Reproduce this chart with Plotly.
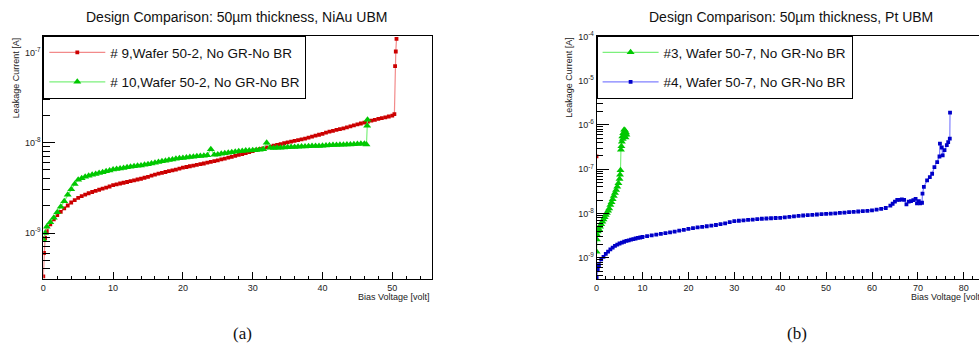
import math
import plotly.graph_objects as go

# ---------------- data (currents in nA, voltages in V) ----------------
# Panel (a): NiAu UBM
a9_volt = [0, 0.1, 0.25, 0.5, 1, 1.5, 2, 2.5, 3, 3.5, 4, 4.5, 5, 5.5, 6, 6.5, 7, 7.5, 8, 8.5,
           9, 9.5, 10, 10.5, 11, 11.5, 12, 12.5, 13, 13.5, 14, 14.5, 15, 15.5, 16, 16.5, 17, 17.5,
           18, 18.5, 19, 19.5, 20, 20.5, 21, 21.5, 22, 22.5, 23, 23.5, 24, 24.5, 25, 25.5, 26, 26.5,
           27, 27.5, 28, 28.5, 29, 29.5, 30, 30.5, 31, 31.5, 32, 32.5, 33, 33.5, 34, 34.5, 35, 35.5,
           36, 36.5, 37, 37.5, 38, 38.5, 39, 39.5, 40, 40.5, 41, 41.5, 42, 42.5, 43, 43.5, 44, 44.5,
           45, 45.5, 46, 46.5, 47, 47.5, 48, 48.5, 49, 49.5, 50, 50.3, 50.4, 50.5, 50.6]
a9_current_nA = [0.33, 0.6, 0.88, 1.05, 1.25, 1.42, 1.58, 1.72, 1.88, 2.02, 2.18, 2.32, 2.45, 2.56, 2.66, 2.76, 2.85, 2.94, 3.02, 3.10,
                 3.18, 3.28, 3.40, 3.47, 3.54, 3.61, 3.68, 3.76, 3.84, 3.92, 4.00, 4.10, 4.20, 4.33, 4.45, 4.55, 4.65, 4.75,
                 4.85, 4.95, 5.05, 5.18, 5.30, 5.40, 5.50, 5.60, 5.70, 5.80, 5.90, 6.02, 6.15, 6.27, 6.40, 6.55, 6.70, 6.85,
                 7.00, 7.18, 7.35, 7.52, 7.70, 7.90, 8.10, 8.30, 8.50, 8.70, 8.90, 9.10, 9.30, 9.50, 9.70, 9.90, 10.1, 10.3,
                 10.5, 10.7, 10.9, 11.15, 11.4, 11.7, 12.0, 12.3, 12.6, 12.95, 13.3, 13.6, 13.9, 14.2, 14.5, 14.85, 15.2, 15.6,
                 16.0, 16.4, 16.8, 17.2, 17.6, 18.0, 18.4, 18.8, 19.2, 19.6, 20.0, 20.8, 71, 103, 142]

a10_volt = [0, 0.25, 0.5, 1, 1.5, 2, 2.5, 3, 3.5, 4, 4.5, 5, 5.5, 6, 6.5, 7, 7.5, 8, 8.5, 9, 9.5,
            10, 10.5, 11, 11.5, 12, 12.5, 13, 13.5, 14, 14.5, 15, 15.5, 16, 16.5, 17, 17.5, 18, 18.5,
            19, 19.5, 20, 20.5, 21, 21.5, 22, 22.5, 23, 23.5, 24, 24.5, 25, 25.5, 26, 26.5, 27, 27.5,
            28, 28.5, 29, 29.5, 30, 30.5, 31, 31.5, 32, 32.5, 33, 33.5, 34, 34.5, 35, 35.5, 36, 36.5,
            37, 37.5, 38, 38.5, 39, 39.5, 40, 40.5, 41, 41.5, 42, 42.5, 43, 43.5, 44, 44.5, 45, 45.5,
            46, 46.3, 46.4, 46.45]
a10_current_nA = [0.84, 1.0, 1.17, 1.32, 1.48, 1.70, 1.95, 2.25, 2.65, 3.05, 3.5, 3.9, 4.05, 4.2, 4.32, 4.42, 4.52, 4.62, 4.72, 4.85, 4.95,
                  5.05, 5.12, 5.18, 5.25, 5.35, 5.42, 5.5, 5.56, 5.62, 5.7, 5.8, 5.9, 6.0, 6.15, 6.25, 6.35, 6.45, 6.55,
                  6.65, 6.75, 6.8, 6.88, 6.95, 7.0, 7.08, 7.15, 7.2, 7.3, 8.5, 7.4, 7.45, 7.55, 7.65, 7.75, 7.85, 7.95,
                  8.05, 8.12, 8.2, 8.25, 8.3, 8.35, 8.4, 8.5, 10.0, 8.8, 8.75, 8.8, 8.85, 8.9, 8.95, 9.0, 9.0, 9.05,
                  9.1, 9.1, 9.15, 9.2, 9.2, 9.25, 9.3, 9.35, 9.4, 9.45, 9.45, 9.5, 9.55, 9.6, 9.6, 9.65, 9.7, 9.75,
                  9.8, 9.6, 15.5, 18.0]

# Panel (b): Pt UBM
b3_volt = [0, 0.05, 0.1, 0.25, 0.5, 0.75, 1.0, 1.25, 1.5, 1.75, 2.0, 2.25, 2.5, 2.75, 3.0, 3.25, 3.5, 3.75,
           4.0, 4.25, 4.5, 4.75, 5.0, 5.1, 5.2, 5.3, 5.4, 5.5, 5.6, 5.7, 5.8, 5.9, 6.0, 6.1, 6.2, 6.3, 6.4, 6.5]
b3_current_nA = [1.37, 2.6, 3.3, 3.9, 4.4, 5.0, 5.7, 6.5, 7.3, 8.2, 9.2, 10.3, 11.5, 13, 15.5, 18, 21, 25,
                 29, 34, 40, 48, 60, 75, 95, 275, 330, 420, 550, 480, 650, 560, 780, 600, 750, 520, 680, 600]

b4_volt = [0, 0.25, 0.5, 1, 1.5, 2, 2.5, 3, 3.5, 4, 4.5, 5, 5.5, 6, 6.5, 7, 7.5, 8, 8.5, 9, 9.5, 10,
           11, 12, 13, 14, 15, 16, 17, 18, 19, 20, 21, 22, 23, 24, 25, 26, 27, 28, 29, 30, 31, 32, 33,
           34, 35, 36, 37, 38, 39, 40, 41, 42, 43, 44, 45, 46, 47, 48, 49, 50, 51, 52, 53, 54, 55, 56,
           57, 58, 59, 60, 61, 62, 63, 64, 64.5, 65, 65.5, 66, 66.5, 67, 67.5, 68, 68.5, 69, 69.5, 69.8,
           70.2, 70.5, 70.9, 71.0, 71.3, 72.0, 72.6, 73.1, 73.6, 74.2, 74.7, 74.8, 75.2, 75.4, 75.8, 76.3,
           76.6, 76.95, 77.0]
b4_current_nA = [0.35, 0.55, 0.68, 0.92, 1.05, 1.22, 1.38, 1.55, 1.7, 1.85, 1.97, 2.1, 2.2, 2.3, 2.4, 2.48, 2.56, 2.64, 2.72, 2.8, 2.87, 2.94,
                 3.08, 3.2, 3.34, 3.47, 3.6, 3.75, 3.9, 4.08, 4.28, 4.5, 4.68, 4.85, 5.0, 5.15, 5.3, 5.5, 5.75, 6.0, 6.35, 6.7, 6.85, 7.0, 7.15,
                 7.3, 7.45, 7.6, 7.7, 7.8, 7.9, 8.0, 8.2, 8.4, 8.6, 8.8, 9.0, 9.2, 9.35, 9.5, 9.65, 9.8, 9.95, 10.1, 10.3, 10.5, 10.7, 10.9,
                 11.1, 11.3, 11.5, 11.7, 12.2, 12.7, 13.3, 15.0, 16.6, 18.5, 20.4, 20.4, 20.8, 20.4, 16.0, 18.5, 19.0, 20.0, 21.5, 17.0,
                 19.0, 17.0, 17.5, 28, 40, 56, 66, 79, 112, 145, 194, 380, 310, 205, 270, 350,
                 410, 490, 1900]

# stray point at 0 V in panel (b)
b_stray_volt = [0]
b_stray_current_nA = [195]

legend_a = ["# 9,Wafer 50-2, No GR-No BR", "# 10,Wafer 50-2, No GR-No BR"]
legend_b = ["#3, Wafer 50-7, No GR-No BR", "#4, Wafer 50-7, No GR-No BR"]
titles = ["Design Comparison: 50\u00b5m thickness, NiAu UBM", "Design Comparison: 50\u00b5m thickness, Pt UBM"]
y_ticks_a = [1e-9, 1e-8, 1e-7]
y_ticks_b = [1e-9, 1e-8, 1e-7, 1e-6, 1e-5, 1e-4]

NA = 1e-9
W, H = 979, 351


def to_amp(vals):
    return [v * NA for v in vals]


def sup(v):
    return "10<sup>%d</sup>" % round(math.log10(v))


RED_L, RED_M = "#f28a8a", "#cc0000"
GRN_L, GRN_M = "#7cf07c", "#00c800"
BLU_L, BLU_M = "#8080ff", "#0000c8"

fig = go.Figure()
fig.add_trace(go.Scatter(x=a9_volt, y=to_amp(a9_current_nA), mode="lines+markers", name=legend_a[0],
                         line=dict(color=RED_L, width=1.2), marker=dict(color=RED_M, size=3.8, symbol="square"),
                         xaxis="x", yaxis="y", legend="legend", legendgroup="a9"))
fig.add_trace(go.Scatter(x=a10_volt, y=to_amp(a10_current_nA), mode="lines+markers", name=legend_a[1],
                         line=dict(color=GRN_L, width=1.2), marker=dict(color=GRN_M, size=7, symbol="triangle-up"),
                         xaxis="x", yaxis="y", legend="legend", legendgroup="a10"))
fig.add_trace(go.Scatter(x=b3_volt, y=to_amp(b3_current_nA), mode="lines+markers", name=legend_b[0],
                         line=dict(color=GRN_L, width=1.2), marker=dict(color=GRN_M, size=7, symbol="triangle-up"),
                         xaxis="x2", yaxis="y2", legend="legend2", legendgroup="b3"))
fig.add_trace(go.Scatter(x=b4_volt, y=to_amp(b4_current_nA), mode="lines+markers", name=legend_b[1],
                         line=dict(color=BLU_L, width=1.2), marker=dict(color=BLU_M, size=3.8, symbol="square"),
                         xaxis="x2", yaxis="y2", legend="legend2", legendgroup="b4"))
fig.add_trace(go.Scatter(x=b_stray_volt, y=to_amp(b_stray_current_nA), mode="markers", showlegend=False,
                         marker=dict(color=RED_M, size=3.6, symbol="square"), xaxis="x2", yaxis="y2"))

# geometry (pixels)
top_px, bot_px = 36, 279
ya0, ya1 = 1 - bot_px / H, 1 - top_px / H
ax_l0, ax_l1 = 43.3, 432.3
bx_l0 = 596.6

tick_font = dict(family="Liberation Sans, Arial, sans-serif", size=9, color="#222")
common_x = dict(showline=True, linecolor="black", linewidth=1, ticks="inside", tickcolor="black",
                ticklen=7, tickwidth=1, dtick=10, tick0=0, showgrid=False, zeroline=False,
                tickfont=tick_font,
                minor=dict(ticks="inside", dtick=2, tick0=0, ticklen=3.5, tickcolor="black", showgrid=False))
common_y = dict(type="log", showline=True, linecolor="black", linewidth=1, ticks="inside", tickcolor="black",
                ticklen=12, tickwidth=1, showgrid=False, zeroline=False, tickfont=tick_font,
                minor=dict(ticks="inside", dtick="D1", ticklen=6.5, tickcolor="black", showgrid=False))

fig.update_layout(
    width=W, height=H, margin=dict(l=0, r=0, t=0, b=0, autoexpand=False),
    paper_bgcolor="white", plot_bgcolor="white",
    font=dict(family="Liberation Sans, Arial, sans-serif", color="#111"),
    xaxis=dict(domain=[ax_l0 / W, ax_l1 / W], range=[0, (ax_l1 - ax_l0) / 6.98], mirror=True,
               anchor="y", **common_x),
    yaxis=dict(domain=[ya0, ya1], range=[-9.51, -6.815], mirror=True, anchor="x",
               tickmode="array", tickvals=y_ticks_a, ticktext=[sup(v) for v in y_ticks_a], **common_y),
    xaxis2=dict(domain=[bx_l0 / W, 1.0], range=[0, (W - bx_l0) / 4.59], mirror=True,
                anchor="y2", **common_x),
    yaxis2=dict(domain=[ya0, ya1], range=[-9.48, -3.99], mirror=False, anchor="x2",
                tickmode="array", tickvals=y_ticks_b, ticktext=[sup(v) for v in y_ticks_b], **common_y),
    legend=dict(x=ax_l0 / W, y=ya1, xanchor="left", yanchor="top", bgcolor="white",
                bordercolor="black", borderwidth=1, itemwidth=56, traceorder="grouped", tracegroupgap=9,
                font=dict(size=13.5, color="#111")),
    legend2=dict(x=bx_l0 / W, y=ya1, xanchor="left", yanchor="top", bgcolor="white",
                 bordercolor="black", borderwidth=1, itemwidth=56, traceorder="grouped", tracegroupgap=9,
                 font=dict(size=13.5, color="#111")),
)


def px_ann(text, xpx, ypx, xanchor="center", yanchor="middle", **kw):
    return dict(text=text, x=xpx / W, y=1 - ypx / H, xref="paper", yref="paper", showarrow=False,
                xanchor=xanchor, yanchor=yanchor, **kw)


ann = [
    px_ann(titles[0], 236, 17, font=dict(size=14, color="#111")),
    px_ann(titles[1], 791, 17, font=dict(size=14, color="#111")),
    px_ann("Leakage Current [A]", 15.7, 35, yanchor="top", textangle=-90, font=dict(size=9, color="#222")),
    px_ann("Leakage Current [A]", 568.3, 35, yanchor="top", textangle=-90, font=dict(size=9, color="#222")),
    px_ann("Bias Voltage [volt]", 432, 297, xanchor="right", font=dict(size=9, color="#222")),
    px_ann("Bias Voltage [volt]", 985, 297, xanchor="right", font=dict(size=9, color="#222")),
    px_ann("(a)", 242, 333, font=dict(family="Liberation Serif, DejaVu Serif, serif", size=17, color="#111")),
    px_ann("(b)", 797, 333, font=dict(family="Liberation Serif, DejaVu Serif, serif", size=17, color="#111")),
]
fig.update_layout(annotations=ann)

fig.write_html("out.html", config={"displayModeBar": False},
               post_script="document.body.style.margin='0px';document.body.style.overflow='hidden';")
